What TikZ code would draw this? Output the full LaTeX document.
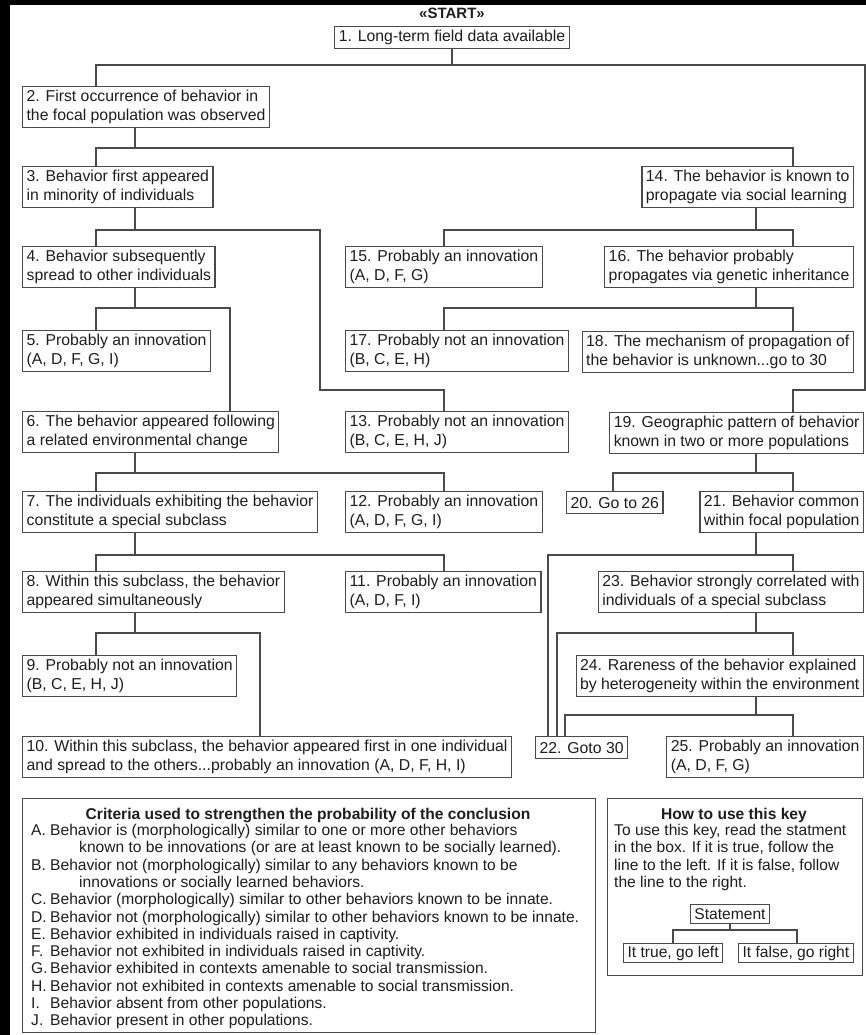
\documentclass[tikz,border=0pt]{standalone}
\usepackage{fontspec}
\setmainfont{Liberation Sans}
\definecolor{ink}{HTML}{1E1E1E}
\definecolor{rule}{HTML}{4A4A4A}
\newcommand\boxsize{\fontsize{15.8}{18.5}\selectfont}
\newcommand\critsize{\fontsize{15.6}{17.3}\selectfont}
\newcommand\lbl[1]{\makebox[19pt][l]{#1}}
\begin{document}
\begin{tikzpicture}[x=1pt,y=-1pt,
  bx/.style={draw=rule, line width=1.2pt, text=ink, font=\boxsize, align=left,
             inner xsep=4pt, inner ysep=2pt, minimum height=41pt},
  bxone/.style={bx, minimum height=22pt},
  nw/.style={anchor=north west},
  ne/.style={anchor=north east},
  ln/.style={draw=rule, line width=1.2pt},
  frame/.style={draw=rule, line width=1.2pt, anchor=north west, inner sep=0pt},
  txt/.style={text=ink, inner sep=0pt},
]
% page
\fill[black] (0,0) rectangle (866,1035);
\fill[white] (10,5) rectangle (866,1035);
\useasboundingbox (0,0) rectangle (866,1035);

% columns and levels of the connectors
\coordinate (x96) at (96,0);
\coordinate (x135) at (135,0);
\coordinate (x230) at (230,0);
\coordinate (x260) at (260,0);
\coordinate (x320) at (320,0);
\coordinate (x444) at (444,0);
\coordinate (x548) at (548,0);
\coordinate (x557) at (557,0);
\coordinate (x565) at (565,0);
\coordinate (x613) at (613,0);
\coordinate (x756) at (756,0);
\coordinate (x793) at (793,0);
\coordinate (x865) at (865,0);
\coordinate (h1) at (0,65);
\coordinate (h2) at (0,148);
\coordinate (h3) at (0,230);
\coordinate (h4) at (0,308);
\coordinate (h5) at (0,390);
\coordinate (h6) at (0,473);
\coordinate (h7) at (0,555);
\coordinate (h8) at (0,633);
\coordinate (h9) at (0,715);

% boxes of the key
\node[txt, font=\bfseries\fontsize{15}{18}\selectfont] (start) at (452,13) {«START»};
\node[bxone, anchor=north] (b1) at (452,26) {1. Long-term field data available};

\node[bx, nw] (b2) at (22,86) {2. First occurrence of behavior in\\the focal population was observed};
\node[bx, nw] (b3) at (22,166) {3. Behavior first appeared\\in minority of individuals};
\node[bx, ne] (b14) at (854,166) {14. The behavior is known to\\propagate via social learning};
\node[bx, nw] (b4) at (22,246) {4. Behavior subsequently\\spread to other individuals};
\node[bx, nw] (b15) at (345,246) {15. Probably an innovation\\(A, D, F, G)};
\node[bx, ne] (b16) at (854,246) {16. The behavior probably\\propagates via genetic inheritance};
\node[bx, nw] (b5) at (22,330) {5. Probably an innovation\\(A, D, F, G, I)};
\node[bx, nw] (b17) at (345,330) {17. Probably not an innovation\\(B, C, E, H)};
\node[bx, ne] (b18) at (854,331) {18. The mechanism of propagation of\\the behavior is unknown...go to 30};
\node[bx, nw] (b6) at (22,411) {6. The behavior appeared following\\a related environmental change};
\node[bx, nw] (b13) at (345,411) {13. Probably not an innovation\\(B, C, E, H, J)};
\node[bx, ne] (b19) at (864,412) {19. Geographic pattern of behavior\\known in two or more populations};
\node[bx, nw] (b7) at (22,491) {7. The individuals exhibiting the behavior\\constitute a special subclass};
\node[bx, nw] (b12) at (345,491) {12. Probably an innovation\\(A, D, F, G, I)};
\node[bxone, nw] (b20) at (566,491) {20. Go to 26};
\node[bx, ne] (b21) at (864,491) {21. Behavior common\\within focal population};
\node[bx, nw] (b8) at (22,571) {8. Within this subclass, the behavior\\appeared simultaneously};
\node[bx, nw] (b11) at (345,571) {11. Probably an innovation\\(A, D, F, I)};
\node[bx, ne] (b23) at (864,571) {23. Behavior strongly correlated with\\individuals of a special subclass};
\node[bx, nw] (b9) at (22,655) {9. Probably not an innovation\\(B, C, E, H, J)};
\node[bx, ne] (b24) at (864,655) {24. Rareness of the behavior explained\\by heterogeneity within the environment};
\node[bx, nw] (b10) at (22,736) {10. Within this subclass, the behavior appeared first in one individual\\and spread to the others...probably an innovation (A, D, F, H, I)};
\node[bxone, nw] (b22) at (535,736) {22. Goto 30};
\node[bx, ne] (b25) at (864,736) {25. Probably an innovation\\(A, D, F, G)};

% connectors: true to the left, false to the right
\draw[ln] (b1.south) -- (b1.south |- h1);
\draw[ln] (b2.north -| x96) |- (x865 |- h1) |- (x793 |- h5) -- (b19.north -| x793);

\draw[ln] (b2.south -| x135) -- (x135 |- h2);
\draw[ln] (b3.north -| x96) |- (x793 |- h2) -- (b14.north -| x793);

\draw[ln] (b3.south -| x135) -- (x135 |- h3);
\draw[ln] (b4.north -| x96) |- (x320 |- h3) |- (x444 |- h5) -- (b13.north -| x444);

\draw[ln] (b14.south -| x756) -- (x756 |- h3);
\draw[ln] (b15.north -| x444) |- (x793 |- h3) -- (b16.north -| x793);

\draw[ln] (b4.south -| x135) -- (x135 |- h4);
\draw[ln] (b5.north -| x96) |- (x230 |- h4) -- (b6.north -| x230);

\draw[ln] (b16.south -| x756) -- (x756 |- h4);
\draw[ln] (b17.north -| x444) |- (x793 |- h4) -- (b18.north -| x793);

\draw[ln] (b6.south -| x135) -- (x135 |- h6);
\draw[ln] (b7.north -| x96) |- (x444 |- h6) -- (b12.north -| x444);

\draw[ln] (b19.south -| x756) -- (x756 |- h6);
\draw[ln] (b20.north -| x613) |- (x793 |- h6) -- (b21.north -| x793);

\draw[ln] (b7.south -| x135) -- (x135 |- h7);
\draw[ln] (b8.north -| x96) |- (x444 |- h7) -- (b11.north -| x444);

\draw[ln] (b21.south -| x756) -- (x756 |- h7);
\draw[ln] (b22.north -| x548) |- (x793 |- h7) -- (b23.north -| x793);

\draw[ln] (b8.south -| x135) -- (x135 |- h8);
\draw[ln] (b9.north -| x96) |- (x260 |- h8) -- (b10.north -| x260);

\draw[ln] (b23.south -| x756) -- (x756 |- h8);
\draw[ln] (b22.north -| x557) |- (x793 |- h8) -- (b24.north -| x793);

\draw[ln] (b24.south -| x756) -- (x756 |- h9);
\draw[ln] (b22.north -| x565) |- (x793 |- h9) -- (b25.north -| x793);

% criteria panel
\node[frame, minimum width=573pt, minimum height=234pt] (crit) at (22,798) {};
\node[txt, font=\bfseries\fontsize{15.6}{18}\selectfont] (crittitle) at (308,815) {Criteria used to strengthen the probability of the conclusion};
\node[txt, font=\critsize, align=left, anchor=north west] (critlist) at (31,824) {%
\lbl{A.}Behavior is (morphologically) similar to one or more other behaviors\\
\hspace*{48pt}known to be innovations (or are at least known to be socially learned).\\
\lbl{B.}Behavior not (morphologically) similar to any behaviors known to be\\
\hspace*{48pt}innovations or socially learned behaviors.\\
\lbl{C.}Behavior (morphologically) similar to other behaviors known to be innate.\\
\lbl{D.}Behavior not (morphologically) similar to other behaviors known to be innate.\\
\lbl{E.}Behavior exhibited in individuals raised in captivity.\\
\lbl{F.}Behavior not exhibited in individuals raised in captivity.\\
\lbl{G.}Behavior exhibited in contexts amenable to social transmission.\\
\lbl{H.}Behavior not exhibited in contexts amenable to social transmission.\\
\lbl{I.}Behavior absent from other populations.\\
\lbl{J.}Behavior present in other populations.};

% how to read the key
\node[frame, minimum width=255pt, minimum height=177pt] (key) at (607,798) {};
\node[txt, font=\bfseries\fontsize{15.6}{18}\selectfont] (keytitle) at (734,815) {How to use this key};
\node[txt, font=\critsize, align=left, anchor=north west] (keytext) at (614,824) {%
To use this key, read the statment\\
in the box. If it is true, follow the\\
line to the left. If it is false, follow\\
the line to the right.};
\node[bxone, anchor=center, minimum height=19pt, font=\critsize] (stmt) at (730,914) {Statement};
\node[bxone, nw, minimum height=19pt, font=\critsize] (gol) at (623,943) {It true, go left};
\node[bxone, nw, minimum height=19pt, font=\critsize] (gor) at (738,943) {It false, go right};
\coordinate (kx1) at (673,0);
\coordinate (kx2) at (797,0);
\coordinate (kh) at (0,930);
\draw[ln] (stmt.south) -- (stmt.south |- kh);
\draw[ln] (gol.north -| kx1) |- (kx2 |- kh) -- (gor.north -| kx2);
\end{tikzpicture}
\end{document}
